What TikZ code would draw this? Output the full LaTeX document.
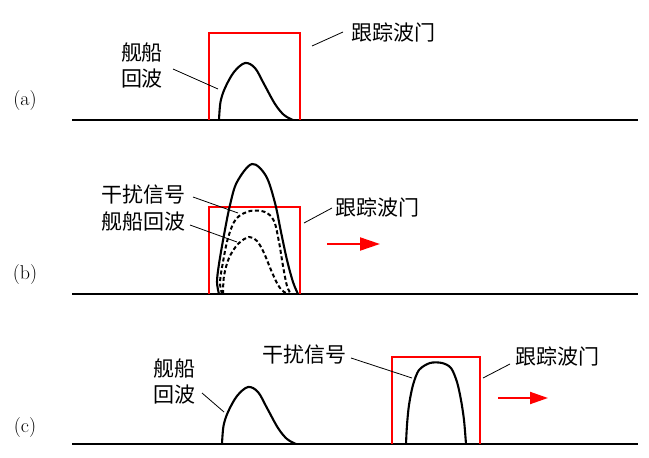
\documentclass[tikz,border=0pt]{standalone}
\usepackage{fontspec}
\newfontfamily\cjk{Noto Sans CJK SC}
\usetikzlibrary{arrows.meta}
\begin{document}
\begin{tikzpicture}[x=1pt,y=-1pt,
  axisline/.style={line width=2pt},
  gate/.style={red, line width=2pt, line join=miter},
  wave/.style={line width=2.1pt, line join=round},
  dashedwave/.style={line width=2pt, dash pattern=on 4pt off 2.6pt},
  leader/.style={line width=0.8pt},
  lbl/.style={font=\cjk\fontsize{21}{26}\selectfont, inner sep=0pt, align=center},
  tag/.style={font=\fontsize{20}{22}\selectfont, inner sep=0pt},
  move/.style={red, line width=2pt, -{Triangle[length=20pt,width=13pt]}}
]
\useasboundingbox (0,0) rectangle (649,458);

% ---------------- (a) ----------------
\node[tag] (ta) at (25,101) {(a)};
\coordinate (aL) at (72,120); \coordinate (aR) at (638,120);
\draw[axisline] (aL) -- (aR);
\coordinate (ga1) at (209,120); \coordinate (ga2) at (300,33); \coordinate (ga3) at (300,120);
\draw[gate] (ga1) |- (ga2) -- (ga3);
\draw[wave] plot[smooth, tension=0.55] coordinates {(219,120) (220.5,102) (225,88) (234,72) (245,63) (255,68) (264,84) (275,104) (284,115) (293,120)};
\node[lbl] (shipA) at (142,66) {舰船\\回波};
\coordinate (shipAend) at (218,89);
\draw[leader] (173,69) coordinate (shipAstart) -- (shipAend);
\node[lbl] (gateA) at (393,33) {跟踪波门};
\coordinate (gateAstart) at (312,46);
\draw[leader] (gateAstart) -- (343,32) coordinate (gateAend);

% ---------------- (b) ----------------
\node[tag] (tb) at (25,275) {(b)};
\coordinate (bL) at (72,294); \coordinate (bR) at (638,294);
\draw[axisline] (bL) -- (bR);
\coordinate (gb1) at (209,294); \coordinate (gb2) at (300,207); \coordinate (gb3) at (300,294);
\draw[gate] (gb1) |- (gb2) -- (gb3);
\draw[wave] plot[smooth, tension=0.55] coordinates {(219,294) (217,282) (219,264) (224,235) (230,205) (237,182) (252,164) (266,176) (275,203) (281,232) (287,260) (293,282) (298,294)};
\draw[dashedwave] plot[smooth, tension=0.55] coordinates {(222,294) (220,282) (223,262) (228,238) (236,219) (250,211) (265,212) (274,221) (279,242) (283,266) (287,286) (291,294)};
\draw[dashedwave] plot[smooth, tension=0.55] coordinates {(223,294) (224,276) (229,258) (238,244) (249,237) (257,241) (264,253) (271,270) (278,285) (284,292) (290,294)};
\node[lbl] (jamB) at (143.5,195) {干扰信号};
\node[lbl] (shipB) at (143.5,222) {舰船回波};
\coordinate (jamBend) at (238,213);
\coordinate (shipBend) at (237,242);
\draw[leader] (193,197) coordinate (jamBstart) -- (jamBend);
\draw[leader] (190,225) coordinate (shipBstart) -- (shipBend);
\node[lbl] (gateB) at (377,208) {跟踪波门};
\draw[leader] (304,223) coordinate (gateBstart) -- (332,208) coordinate (gateBend);
\coordinate (arB1) at (327,244); \coordinate (arB2) at (380,244);
\draw[move] (arB1) -- (arB2);

% ---------------- (c) ----------------
\node[tag] (tc) at (25,428) {(c)};
\coordinate (cL) at (72,444); \coordinate (cR) at (638,444);
\draw[axisline] (cL) -- (cR);
\coordinate (gc1) at (392,444); \coordinate (gc2) at (480,357); \coordinate (gc3) at (480,444);
\draw[gate] (gc1) |- (gc2) -- (gc3);
\begin{scope}[shift={(3,324)}]
\draw[wave] plot[smooth, tension=0.55] coordinates {(219,120) (220.5,102) (225,88) (234,72) (245,63) (255,68) (264,84) (275,104) (284,115) (293,120)};
\end{scope}
\draw[wave] plot[smooth, tension=0.5] coordinates {(406,444) (407,425) (409,405) (413,385) (419,370) (430,363) (442,363) (451,368) (457,382) (461,400) (464,420) (466,444)};
\node[lbl] (shipC) at (174,381.5) {舰船\\回波};
\draw[leader] (202,393) coordinate (shipCstart) -- (224,412) coordinate (shipCend);
\node[lbl] (jamC) at (304,355) {干扰信号};
\draw[leader] (351,358) coordinate (jamCstart) -- (412,378) coordinate (jamCend);
\node[lbl] (gateC) at (557,357) {跟踪波门};
\draw[leader] (483,378) coordinate (gateCstart) -- (510,364) coordinate (gateCend);
\coordinate (arC1) at (498,398); \coordinate (arC2) at (548,398);
\draw[move, -{Triangle[length=18pt,width=12pt]}] (arC1) -- (arC2);
\end{tikzpicture}
\end{document}
